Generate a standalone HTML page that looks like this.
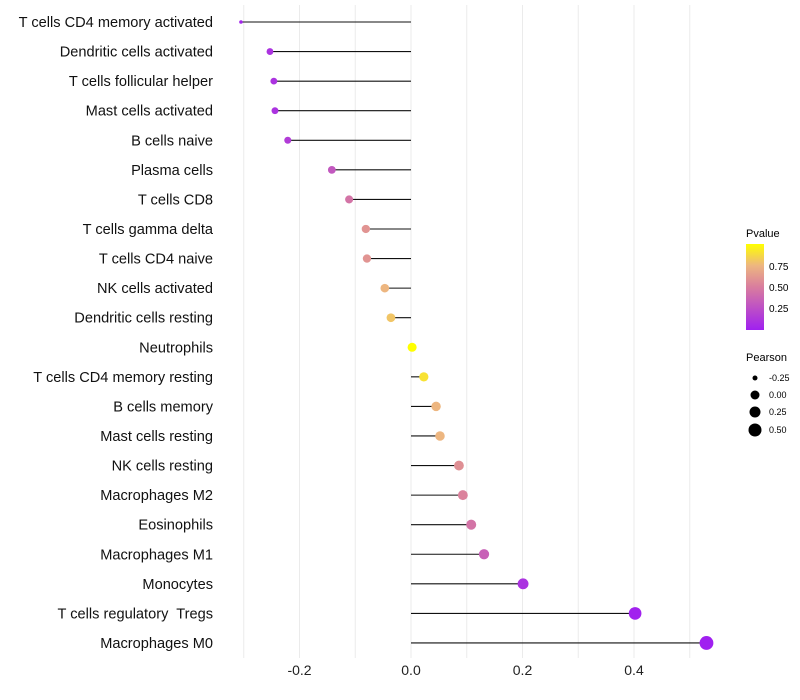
<!DOCTYPE html>
<html><head><meta charset="utf-8"><style>
body{margin:0;background:#fff;font-family:"Liberation Sans",sans-serif}
svg{display:block}
text{white-space:pre}
</style></head><body>
<svg id="chart" width="800" height="700">
<defs><linearGradient id="pg" x1="0" y1="1" x2="0" y2="0">
<stop offset="0" stop-color="#A020F0"/><stop offset="0.5" stop-color="#D97D9E"/><stop offset="0.75" stop-color="#EDB680"/><stop offset="1" stop-color="#FFFF00"/></linearGradient></defs>
<g id="grid"></g><g id="marks"></g><g id="labels"></g>
<g font-size="10">
<text x="746" y="237" font-size="11">Pvalue</text>
<rect x="746" y="244" width="18" height="86" fill="url(#pg)"/>
<text x="769" y="270">0.75</text><text x="769" y="291">0.50</text><text x="769" y="312">0.25</text>
</g>
<g font-size="9">
<text x="746" y="361" font-size="11">Pearson</text>
<circle cx="755" cy="378" r="2.5"/><text x="769" y="381">-0.25</text>
<circle cx="755" cy="395" r="4.5"/><text x="769" y="398">0.00</text>
<circle cx="755" cy="412" r="5.5"/><text x="769" y="415">0.25</text>
<circle cx="755" cy="430" r="6.5"/><text x="769" y="433">0.50</text>
</g>
</svg>
<script>
const categories=["T cells CD4 memory activated","Dendritic cells activated","T cells follicular helper","Mast cells activated","B cells naive","Plasma cells","T cells CD8","T cells gamma delta","T cells CD4 naive","NK cells activated","Dendritic cells resting","Neutrophils","T cells CD4 memory resting","B cells memory","Mast cells resting","NK cells resting","Macrophages M2","Eosinophils","Macrophages M1","Monocytes","T cells regulatory  Tregs","Macrophages M0"];
const pearson=[-0.305,-0.253,-0.246,-0.244,-0.221,-0.142,-0.111,-0.081,-0.079,-0.047,-0.036,0.002,0.023,0.045,0.052,0.086,0.093,0.108,0.131,0.201,0.402,0.53];
const pvalue=[0.03,0.1,0.1,0.1,0.15,0.3,0.45,0.6,0.6,0.75,0.8,1.0,0.9,0.75,0.75,0.58,0.52,0.45,0.35,0.1,0.01,0.0];
const xTicks=[-0.2,0,0.2,0.4];
const xTickLabels=["-0.2","0.0","0.2","0.4"];
const ns="http://www.w3.org/2000/svg";
const X=v=>411+v*557.5;
const Y=i=>22+i*29.57;
function mk(t,a,p){const e=document.createElementNS(ns,t);for(const k in a)e.setAttribute(k,a[k]);p.appendChild(e);return e;}
function hx(c){return [parseInt(c.slice(1,3),16),parseInt(c.slice(3,5),16),parseInt(c.slice(5,7),16)];}
const stops=[[0,"#A020F0"],[0.5,"#D97D9E"],[0.75,"#EDB680"],[1,"#FFFF00"]];
function col(p){for(let i=1;i<stops.length;i++){if(p<=stops[i][0]){const t=(p-stops[i-1][0])/(stops[i][0]-stops[i-1][0]);const a=hx(stops[i-1][1]),b=hx(stops[i][1]);return "rgb("+a.map((v,k)=>Math.round(v+(b[k]-v)*t)).join(",")+")";}}return stops[3][1];}
function rad(v){return v<-0.28?1.8:3.4+(v+0.25)*4.5;}
const grid=document.getElementById('grid'),marks=document.getElementById('marks'),labels=document.getElementById('labels');
for(let v=-0.3;v<=0.51;v+=0.1){const l=mk('line',{x1:X(v),x2:X(v),y1:5,y2:658,stroke:'#ebebeb','stroke-width':1},grid);}
xTicks.forEach((v,i)=>{const t=mk('text',{x:X(v),y:675,'text-anchor':'middle','font-size':14,fill:'#222'},labels);t.textContent=xTickLabels[i];});
categories.forEach((c,i)=>{
const t=mk('text',{x:213,y:Y(i)+5,'text-anchor':'end','font-size':14.6,fill:'#111'},labels);t.textContent=c;

const l=mk('line',{x1:X(0),x2:X(pearson[i]),y1:Y(i),y2:Y(i),stroke:'#111','stroke-width':1.1},marks);

const d=mk('circle',{cx:X(pearson[i]),cy:Y(i),r:rad(pearson[i]),fill:col(pvalue[i])},marks);

});
</script>
</body></html>
